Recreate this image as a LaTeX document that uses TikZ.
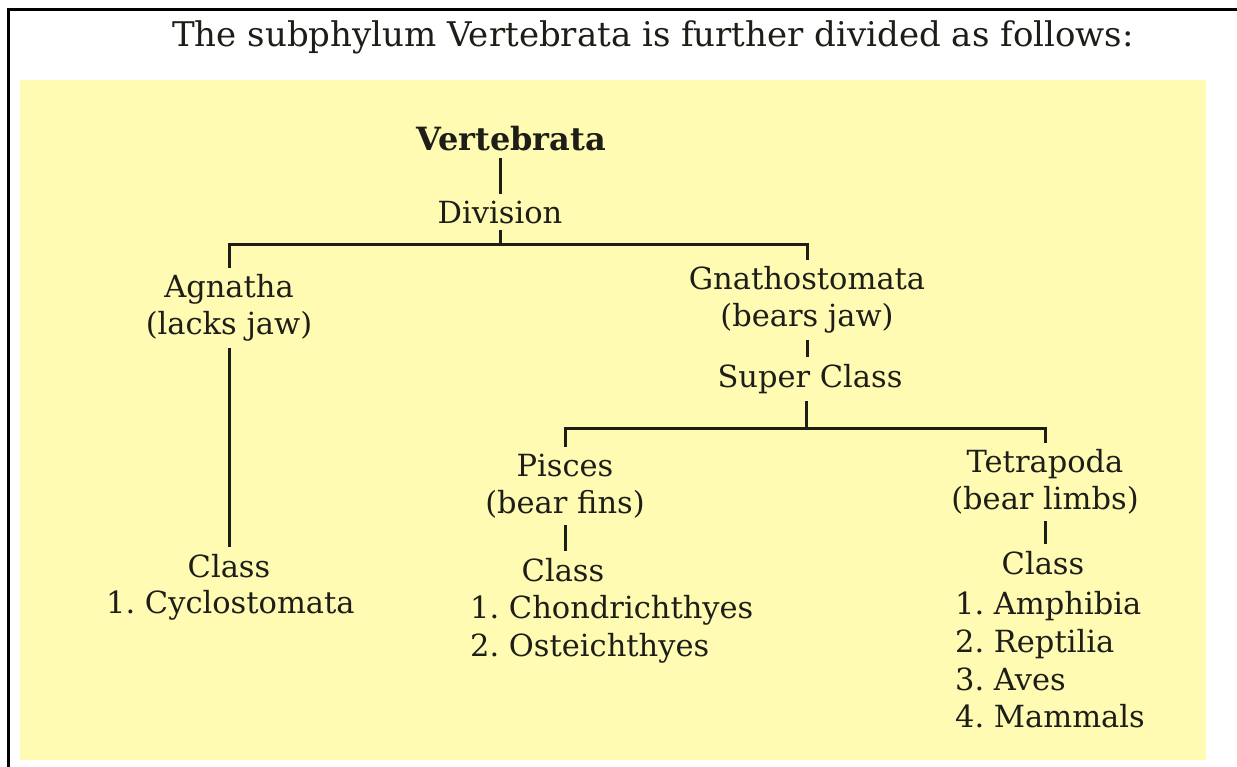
\documentclass[tikz,border=0pt]{standalone}
\usepackage{fontspec}
\newfontfamily\labfont{DejaVu Serif}
\definecolor{pad}{RGB}{255,251,178}
\definecolor{ink}{RGB}{30,30,25}
\tikzset{
  lbl/.style={font=\labfont\fontsize{30.5}{37}\selectfont, text=ink, inner sep=0pt, outer sep=7pt, align=center},
  lst/.style={font=\labfont\fontsize{30.5}{37.7}\selectfont, text=ink, inner sep=0pt, align=left, anchor=west},
  conn/.style={draw=ink, line width=3pt}
}
\begin{document}
\frenchspacing
\begin{tikzpicture}[x=1pt,y=-1pt]
\useasboundingbox (0,0) rectangle (1237,767);
\fill[white] (0,0) rectangle (1237,767);
\fill[pad] (20,80) rectangle (1206,760);
\draw[black, line width=3pt] (8,767) -- (8,10) -- (1237,10);
\node[font=\labfont\fontsize{34}{40}\selectfont, text=ink, inner sep=0pt] (title) at (653,37) {The subphylum Vertebrata is further divided as follows:};

\node[lbl, font=\labfont\bfseries\fontsize{32}{37}\selectfont] (vert) at (511,139) {Vertebrata};
\node[lbl] (div) at (500,212) {Division};
\node[lbl] (agn) at (229,308) {Agnatha\\(lacks jaw)};
\node[lbl] (gna) at (807,300) {Gnathostomata\\(bears jaw)};
\node[lbl] (sup) at (810,379) {Super Class};
\node[lbl] (cls1) at (229,566) {Class};
\node[lst] (cyc) at (106,605) {1. Cyclostomata};
\node[lbl] (pis) at (565,486) {Pisces\\(bear fins)};
\node[lbl] (cls2) at (563,570) {Class};
\node[lst] (l2) at (470,629) {1. Chondrichthyes\\2. Osteichthyes};
\node[lbl] (tet) at (1045,482) {Tetrapoda\\(bear limbs)};
\node[lbl] (cls3) at (1043,563) {Class};
\node[lst] (l3) at (955,660) {1. Amphibia\\2. Reptilia\\3. Aves\\4. Mammals};

\coordinate (j1) at (500,245);
\coordinate (j2) at (806,428);
\draw[conn] (vert.south -| div) -- (div.north);
\draw[conn] (div.south) -- (j1);
\draw[conn] (agn.north) |- (j1) -| (gna.north);
\draw[conn] (agn.south) -- (cls1.north);
\draw[conn] (gna.south) -- (gna.south |- sup.north);
\draw[conn] (sup.south -| j2) -- (j2);
\draw[conn] (pis.north) |- (j2) -| (tet.north);
\draw[conn] (pis.south) -- (pis.south |- cls2.north);
\draw[conn] (tet.south) -- (tet.south |- cls3.north);
\end{tikzpicture}
\end{document}
